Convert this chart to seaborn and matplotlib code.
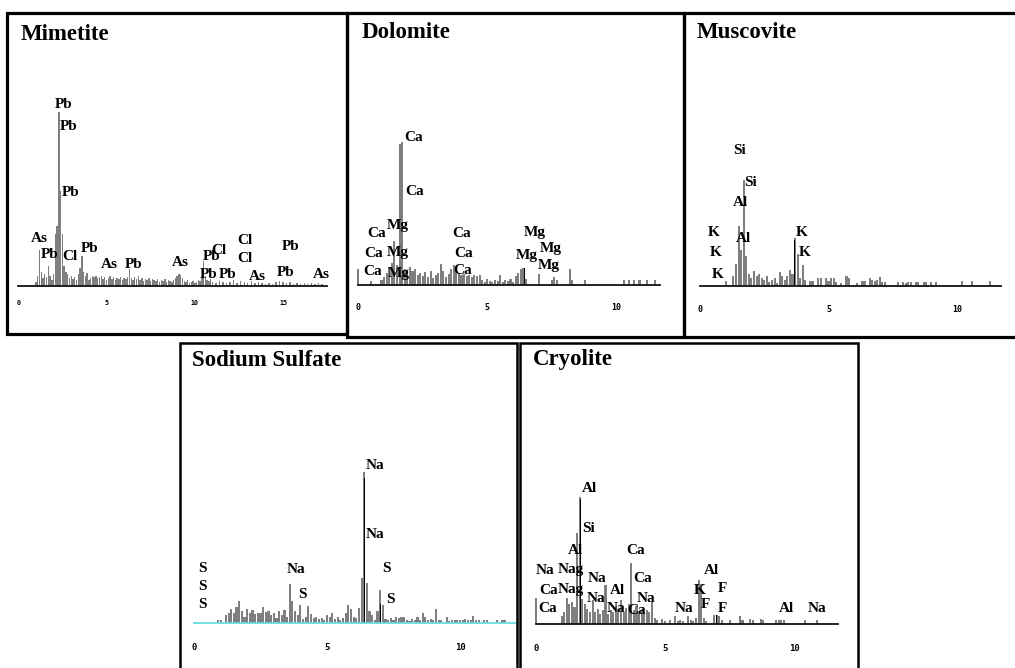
import matplotlib
matplotlib.use("Agg")
import matplotlib.pyplot as plt
from matplotlib.patches import Rectangle
import seaborn as sns

# ---------------------------------------------------------------- spectra
# energies in keV, counts per channel

mim_kev = [1.0, 1.1, 1.2, 1.3, 1.4, 1.5, 1.6, 1.7, 1.8, 1.9,
           2.0, 2.1, 2.2, 2.3, 2.4, 2.5, 2.6, 2.7, 2.8, 2.9,
           3.0, 3.1, 3.2, 3.3, 3.4, 3.5, 3.6, 3.7, 3.8, 3.9,
           4.0, 4.1, 4.2, 4.3, 4.4, 4.5, 4.6, 4.7, 4.8, 4.9,
           5.0, 5.1, 5.2, 5.3, 5.4, 5.5, 5.6, 5.7, 5.8, 5.9,
           6.0, 6.1, 6.2, 6.3, 6.4, 6.5, 6.6, 6.7, 6.8, 6.9,
           7.0, 7.1, 7.2, 7.3, 7.4, 7.5, 7.6, 7.7, 7.8, 7.9,
           8.0, 8.1, 8.2, 8.3, 8.4, 8.5, 8.6, 8.7, 8.8, 8.9,
           9.0, 9.1, 9.2, 9.3, 9.4, 9.5, 9.6, 9.7, 9.8, 9.9,
           10.0, 10.1, 10.2, 10.3, 10.4, 10.5, 10.6, 10.7, 10.8, 10.9,
           11.0, 11.2, 11.4, 11.6, 11.8, 12.0, 12.2, 12.4, 12.6, 12.8,
           13.0, 13.2, 13.4, 13.6, 13.8, 14.0, 14.2, 14.4, 14.6, 14.8,
           15.0, 15.2, 15.4, 15.6, 15.8, 16.0, 16.2, 16.4, 16.6, 16.8,
           17.0, 17.2]
mim_cts = [4, 10, 36, 14, 8, 12, 9, 20, 10, 6,
           12, 52, 60, 174, 95, 52, 20, 14, 12, 8,
           10, 7, 9, 6, 12, 18, 30, 14, 10, 13,
           6, 8, 10, 9, 10, 8, 9, 10, 7, 9,
           6, 8, 10, 7, 9, 6, 8, 7, 9, 6,
           8, 7, 9, 17, 8, 6, 9, 7, 10, 6,
           8, 5, 7, 6, 8, 5, 7, 6, 5, 7,
           4, 6, 5, 7, 4, 6, 5, 4, 6, 8,
           10, 12, 11, 8, 5, 4, 6, 3, 4, 5,
           3, 4, 6, 5, 8, 25, 10, 6, 5, 7,
           4, 3, 5, 4, 3, 4, 6, 3, 5, 4,
           3, 5, 3, 4, 3, 2, 3, 2, 4, 5,
           4, 3, 4, 2, 3, 2, 3, 2, 3, 2,
           3, 2]
mim_peak_kev = [2.3, 2.4]
mim_peak_cts = [168, 82]

dol_kev = [0.0, 0.5, 0.9, 1.0, 1.1, 1.2, 1.3, 1.4, 1.5, 1.6,
           1.7, 1.8, 1.9, 2.0, 2.1, 2.2, 2.3, 2.4, 2.5, 2.6,
           2.7, 2.8, 2.9, 3.0, 3.1, 3.2, 3.3, 3.4, 3.5, 3.6,
           3.7, 3.8, 3.9, 4.0, 4.1, 4.2, 4.3, 4.4, 4.5, 4.6,
           4.7, 4.8, 4.9, 5.0, 5.1, 5.2, 5.3, 5.4, 5.5, 5.6,
           5.7, 5.8, 5.9, 6.0, 6.1, 6.2, 6.3, 6.4, 6.5, 7.0,
           7.5, 7.6, 7.7, 8.2, 8.3, 8.8, 10.3, 10.5, 10.7, 10.9,
           11.2, 11.5]
dol_cts = [16, 4, 5, 8, 12, 18, 22, 44, 20, 141,
           143, 16, 12, 18, 14, 16, 10, 12, 9, 13,
           8, 14, 7, 10, 12, 21, 14, 8, 11, 16,
           20, 15, 12, 10, 11, 9, 10, 8, 10, 9,
           10, 5, 3, 6, 4, 3, 5, 4, 10, 3,
           5, 4, 6, 3, 9, 12, 16, 17, 6, 11,
           5, 8, 5, 16, 5, 5, 5, 5, 5, 5,
           5, 5]
dol_peak_kev = [1.65, 6.45, 7.0]
dol_peak_cts = [140, 17, 11]

mus_kev = [1.0, 1.3, 1.4, 1.5, 1.6, 1.7, 1.8, 1.9, 2.0, 2.1,
           2.2, 2.3, 2.4, 2.5, 2.6, 2.7, 2.8, 2.9, 3.0, 3.1,
           3.2, 3.3, 3.4, 3.5, 3.6, 3.7, 3.8, 3.9, 4.0, 4.1,
           4.3, 4.4, 4.6, 4.7, 4.9, 5.0, 5.1, 5.2, 5.3, 5.5,
           5.7, 5.8, 6.1, 6.3, 6.4, 6.6, 6.7, 6.8, 6.9, 7.0,
           7.1, 7.2, 7.7, 7.9, 8.0, 8.1, 8.2, 8.4, 8.5, 8.7,
           8.8, 9.0, 9.2, 10.2, 10.6, 11.3]
mus_cts = [5, 10, 22, 60, 36, 106, 30, 12, 8, 15,
           10, 12, 8, 6, 10, 4, 6, 8, 3, 14,
           10, 6, 10, 16, 12, 48, 32, 8, 21, 6,
           5, 5, 8, 8, 8, 5, 8, 8, 4, 3,
           10, 8, 3, 5, 5, 8, 6, 5, 6, 9,
           4, 4, 4, 4, 3, 4, 4, 4, 4, 4,
           4, 4, 4, 5, 5, 5]
mus_peak_kev = [1.47, 1.72, 3.67]
mus_peak_cts = [62, 104, 46]

sod_kev = [0.9, 1.0, 1.2, 1.3, 1.4, 1.5, 1.6, 1.7, 1.8, 1.9,
           2.0, 2.1, 2.2, 2.3, 2.4, 2.5, 2.6, 2.7, 2.8, 2.9,
           3.0, 3.1, 3.2, 3.3, 3.4, 3.5, 3.6, 3.7, 3.8, 3.9,
           4.0, 4.1, 4.2, 4.3, 4.4, 4.5, 4.6, 4.7, 4.8, 4.9,
           5.0, 5.1, 5.2, 5.3, 5.4, 5.5, 5.6, 5.7, 5.8, 5.9,
           6.0, 6.1, 6.2, 6.3, 6.4, 6.5, 6.6, 6.7, 6.8, 6.9,
           7.0, 7.1, 7.2, 7.3, 7.4, 7.5, 7.6, 7.7, 7.8, 7.9,
           8.0, 8.1, 8.2, 8.3, 8.4, 8.5, 8.6, 8.7, 8.8, 8.9,
           9.0, 9.1, 9.2, 9.3, 9.5, 9.6, 9.7, 9.8, 9.9, 10.0,
           10.1, 10.2, 10.3, 10.4, 10.5, 10.6, 10.7, 10.9, 11.0, 11.4,
           11.6, 11.7]
sod_cts = [3, 3, 8, 10, 14, 10, 16, 22, 12, 6,
           14, 10, 13, 9, 10, 10, 16, 11, 12, 8,
           10, 5, 12, 8, 13, 6, 39, 22, 12, 8,
           18, 4, 6, 17, 9, 5, 6, 4, 5, 3,
           8, 6, 10, 4, 6, 3, 5, 10, 18, 14,
           6, 5, 15, 45, 151, 40, 12, 8, 3, 12,
           33, 18, 4, 3, 5, 3, 6, 5, 6, 6,
           3, 2, 4, 3, 6, 3, 10, 6, 3, 4,
           3, 14, 3, 3, 6, 2, 3, 3, 3, 3,
           3, 4, 3, 3, 7, 3, 3, 3, 3, 3,
           3, 3]
sod_peak_kev = [3.65, 6.43, 7.02]
sod_peak_cts = [36, 145, 19]

cry_kev = [0.0, 1.0, 1.1, 1.2, 1.3, 1.4, 1.5, 1.6, 1.7, 1.8,
           1.9, 2.0, 2.1, 2.2, 2.3, 2.4, 2.5, 2.6, 2.7, 2.8,
           2.9, 3.0, 3.1, 3.2, 3.3, 3.4, 3.5, 3.6, 3.7, 3.8,
           3.9, 4.0, 4.1, 4.2, 4.3, 4.4, 4.5, 4.6, 4.7, 4.9,
           5.0, 5.2, 5.4, 5.5, 5.6, 5.7, 5.9, 6.0, 6.1, 6.2,
           6.3, 6.4, 6.5, 6.6, 6.9, 7.0, 7.1, 7.2, 7.5, 7.9,
           8.0, 8.3, 8.4, 8.7, 8.8, 9.3, 9.4, 9.5, 9.6, 10.4,
           10.9]
cry_cts = [26, 8, 12, 26, 20, 22, 17, 91, 127, 25,
           20, 15, 12, 24, 12, 15, 10, 14, 39, 10,
           14, 12, 18, 14, 24, 12, 16, 20, 61, 14,
           18, 12, 15, 10, 14, 12, 22, 6, 4, 5,
           3, 4, 8, 3, 4, 3, 8, 4, 3, 6,
           44, 40, 6, 3, 9, 9, 8, 4, 4, 8,
           4, 5, 4, 5, 4, 4, 4, 4, 4, 4,
           4]
cry_peak_kev = [1.45, 1.71, 2.22, 3.67, 6.35, 7.0]
cry_peak_cts = [17, 125, 24, 61, 44, 9]

# ---------------------------------------------------------------- line labels
mim_lab = ["Pb", "Pb", "Pb", "As", "Pb", "Cl", "Pb", "As", "Pb", "As",
           "Pb", "Cl", "Cl", "Cl", "Pb", "Pb", "Pb", "As", "Pb", "As"]
mim_lab_kev = [2.08, 2.36, 2.48, 0.72, 1.29, 2.48, 3.55, 4.69, 6.05, 8.71,
               10.46, 10.92, 12.39, 12.39, 14.94, 10.29, 11.35, 13.07, 14.66, 16.70]
mim_lab_h = [182, 159, 93, 48, 32, 29, 38, 22, 22, 24,
             29, 36, 45, 27, 39, 11, 11, 10, 14, 11]

dol_lab = ["Ca", "Ca", "Mg", "Ca", "Ca", "Mg", "Ca", "Mg",
           "Ca", "Ca", "Ca", "Mg", "Mg", "Mg", "Mg"]
dol_lab_kev = [1.77, 1.81, 1.11, 0.34, 0.22, 1.11, 0.18, 1.15,
               3.63, 3.71, 3.67, 6.42, 6.11, 7.04, 6.97]
dol_lab_h = [147, 93, 59, 51, 31, 32, 13, 11,
             51, 31, 14, 52, 29, 36, 19]

mus_lab = ["Si", "Si", "Al", "Al", "K", "K", "K", "K", "K"]
mus_lab_kev = [1.28, 1.71, 1.28, 1.40, 0.31, 0.39, 0.47, 3.74, 3.85]
mus_lab_h = [136, 103, 83, 47, 54, 33, 11, 54, 34]

sod_lab = ["Na", "Na", "Na", "S", "S", "S", "S", "S", "S"]
sod_lab_kev = [6.47, 6.47, 3.50, 3.91, 0.15, 0.15, 0.15, 7.07, 7.22]
sod_lab_h = [157, 88, 53, 28, 54, 36, 18, 54, 23]

cry_lab = ["Al", "Si", "Al", "Ca", "Na", "Nag", "Na", "Ca", "Nag", "Na",
           "Al", "Na", "Ca", "Ca", "Na", "Ca", "Na", "Al", "K", "F",
           "F", "F", "Al", "Na"]
cry_lab_kev = [1.79, 1.79, 1.25, 3.49, 0.01, 0.86, 2.02, 0.13, 0.86, 1.98,
               2.87, 2.76, 0.09, 3.76, 3.92, 3.53, 5.39, 6.51, 6.12, 7.05,
               6.40, 7.05, 9.41, 10.53]
cry_lab_h = [136, 96, 74, 74, 54, 54, 45, 34, 34, 26,
             34, 15, 15, 45, 26, 14, 15, 53, 33, 35,
             19, 15, 15, 15]

# ---------------------------------------------------------------- figure
W, H = 1015, 668
sns.set_style("white")
plt.rcParams["font.family"] = ["Liberation Serif", "DejaVu Serif"]
plt.rcParams["text.color"] = "black"
fig = plt.figure(figsize=(W / 100, H / 100), dpi=100)
fig.patch.set_facecolor("white")

SERIF = "Liberation Serif"
BAR = "#7f7f7f"


def fx(x):
    return x / W


def fy(y):
    return 1 - y / H


def frame(x0, y0, x1, y1, lw):
    fig.add_artist(Rectangle((fx(x0), fy(y1)), fx(x1) - fx(x0), fy(y0) - fy(y1),
                             transform=fig.transFigure, fill=False,
                             edgecolor="black", linewidth=lw, zorder=10))


def bars(ax, kev, cts, width, shrink, color):
    sns.histplot(x=kev, weights=cts, binwidth=width,
                 binrange=(min(kev) - width / 2, max(kev) + width / 2),
                 shrink=shrink, color=color, alpha=1, linewidth=0, ax=ax)


def panel(title, box, title_xy, base, zero_px, px_per_kev, span, top,
          axis_end, majors, tick_labels, minors, spec, peaks, labels,
          box_lw, tick_fs, tick_pad, major_len, minor_len,
          spine_color="#111111"):
    frame(*box, box_lw)
    fig.text(fx(title_xy[0]), fy(title_xy[1]), title, ha="left", va="center",
             fontsize=16.5, fontweight="bold", family=SERIF, color="black")
    xl, xr = span
    ax = fig.add_axes([fx(xl), fy(base), fx(xr) - fx(xl), fy(top) - fy(base)])
    ax.patch.set_alpha(0)
    bars(ax, spec[0], spec[1], 0.1, 0.8, BAR)
    bars(ax, peaks[0], peaks[1], 0.04, 0.45, "black")
    ax.set_xlim((xl - zero_px) / px_per_kev, (xr - zero_px) / px_per_kev)
    ax.set_ylim(0, base - top)
    for t, e, h in zip(*labels):
        ax.text(e, h, t, ha="left", va="center", fontsize=11, color="black",
                fontweight="bold", family=SERIF, clip_on=False)
    for side in ("left", "top", "right"):
        ax.spines[side].set_visible(False)
    ax.spines["bottom"].set_bounds(0, axis_end)
    ax.spines["bottom"].set_color(spine_color)
    ax.spines["bottom"].set_linewidth(1.3)
    ax.set_yticks([])
    ax.set_xticks(majors)
    ax.set_xticklabels(tick_labels)
    ax.set_xticks(minors, minor=True)
    ax.tick_params(axis="x", which="major", direction="out", length=major_len,
                   width=1.0, color="#111111", pad=tick_pad, labelsize=tick_fs,
                   labelcolor="black")
    ax.tick_params(axis="x", which="minor", direction="out", length=minor_len,
                   width=1.0, color="#111111")
    for lab in ax.get_xticklabels():
        lab.set_family("DejaVu Sans Mono")
        lab.set_fontweight("bold")
    ax.set_xlabel("")
    ax.set_ylabel("")
    return ax


ticks_major_17 = [0, 5, 10, 15]
ticks_minor_17 = [1, 2, 3, 4, 6, 7, 8, 9, 11, 12, 13, 14, 16, 17]
ticks_major_11 = [0, 5, 10]
ticks_minor_11 = [1, 2, 3, 4, 6, 7, 8, 9, 11]

panel("Mimetite", (7, 13, 347, 334), (21, 34), 286, 18.3, 17.65, (10, 344), 60,
      17.5, ticks_major_17, ["0", "5", "10", "15"], ticks_minor_17,
      (mim_kev, mim_cts), (mim_peak_kev, mim_peak_cts),
      (mim_lab, mim_lab_kev, mim_lab_h), 2.3, 4.8, 3.0, 7, 4)

panel("Dolomite", (347, 13, 684, 337), (362, 33), 284.5, 358.3, 25.8, (351, 680), 60,
      11.7, ticks_major_11, ["0", "5", "10"], ticks_minor_11,
      (dol_kev, dol_cts), (dol_peak_kev, dol_peak_cts),
      (dol_lab, dol_lab_kev, dol_lab_h), 2.3, 6.0, 5.5, 8, 6)

panel("Muscovite", (684, 13, 1020, 337), (697, 33), 286, 700, 25.7, (687, 1014), 60,
      11.7, ticks_major_11, ["0", "5", "10"], ticks_minor_11,
      (mus_kev, mus_cts), (mus_peak_kev, mus_peak_cts),
      (mus_lab, mus_lab_kev, mus_lab_h), 2.3, 6.0, 5.5, 8, 6)

panel("Sodium Sulfate", (180, 343, 517, 672), (192, 360), 622.7, 194, 26.6, (183, 519), 390,
      12.15, ticks_major_11, ["0", "5", "10"], ticks_minor_11,
      (sod_kev, sod_cts), (sod_peak_kev, sod_peak_cts),
      (sod_lab, sod_lab_kev, sod_lab_h), 1.8, 6.5, 5.5, 9, 6,
      spine_color="#63dede")

panel("Cryolite", (520, 343, 858, 672), (533, 360), 624, 535.7, 25.85, (523, 855), 390,
      11.7, ticks_major_11, ["0", "5", "10"], ticks_minor_11,
      (cry_kev, cry_cts), (cry_peak_kev, cry_peak_cts),
      (cry_lab, cry_lab_kev, cry_lab_h), 1.8, 6.5, 5.5, 9, 6)

fig.savefig("out.png", dpi=100, facecolor="white")
